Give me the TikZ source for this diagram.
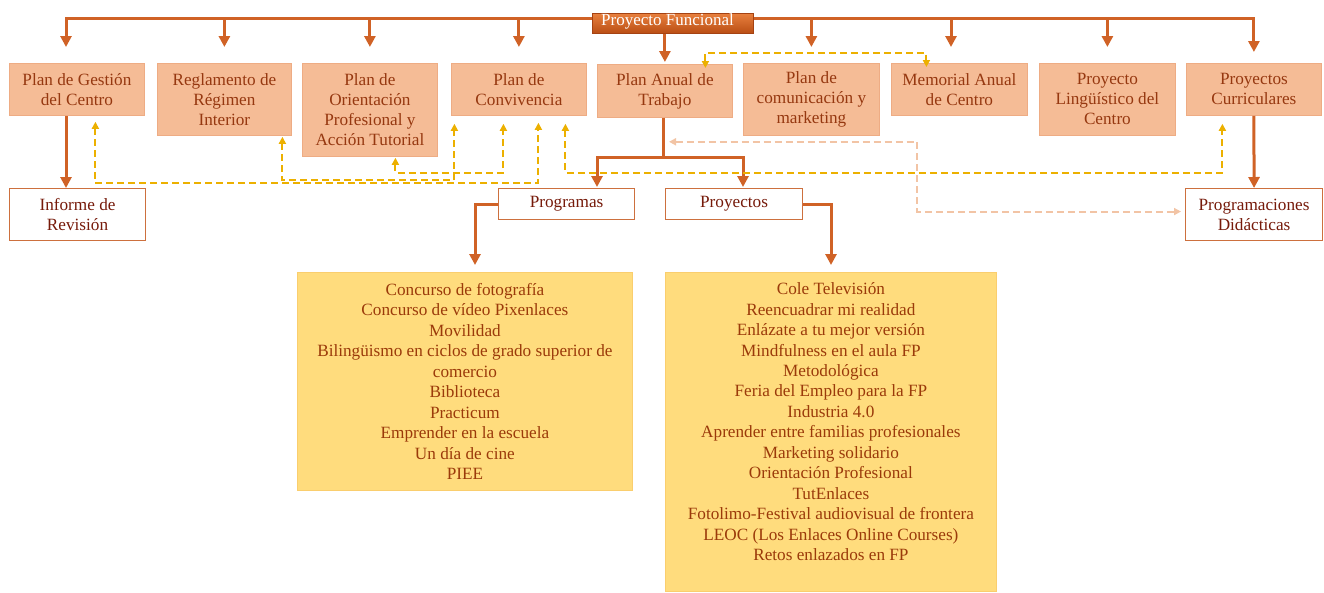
\documentclass[tikz,border=0pt]{standalone}
\usepackage{fontspec}
\setmainfont{Liberation Serif}
\usetikzlibrary{arrows.meta}

\definecolor{linkorange}{RGB}{208,98,38}
\definecolor{planfill}{RGB}{245,188,150}
\definecolor{planedge}{RGB}{238,172,132}
\definecolor{plantext}{RGB}{150,56,16}
\definecolor{docedge}{RGB}{205,112,62}
\definecolor{doctext}{RGB}{118,26,10}
\definecolor{listfill}{RGB}{255,220,125}
\definecolor{listedge}{RGB}{250,206,110}
\definecolor{listtext}{RGB}{155,58,10}
\definecolor{golddash}{RGB}{236,176,0}
\definecolor{peachdash}{RGB}{242,196,165}
\definecolor{headtop}{RGB}{232,128,62}
\definecolor{headbot}{RGB}{186,78,20}
\definecolor{headedge}{RGB}{165,66,18}

\begin{document}
\begin{tikzpicture}[x=1pt,y=-1pt,
  txt/.style={font=\fontsize{17.2}{20}\selectfont, align=center, inner sep=0pt},
  planbox/.style={txt, rectangle, fill=planfill, draw=planedge, line width=0.8pt,
    text=plantext, anchor=north west},
  docbox/.style={txt, rectangle, fill=white, draw=docedge, line width=1.1pt,
    text=doctext, anchor=north west},
  listbox/.style={rectangle, fill=listfill, draw=listedge, line width=0.8pt,
    text=listtext, anchor=north west, align=center, inner sep=0pt,
    font=\fontsize{17.2}{20.45}\selectfont},
  oline/.style={draw=linkorange, line width=3pt},
  oarrow/.style={oline, -{Triangle[width=11pt,length=11pt]}},
  gdash/.style={draw=golddash, line width=2pt, dash pattern=on 7pt off 4pt,
    {Triangle[width=7pt,length=7pt]}-{Triangle[width=7pt,length=7pt]}},
  pdash/.style={draw=peachdash, line width=2pt, dash pattern=on 7pt off 4pt,
    {Triangle[width=7pt,length=7pt]}-{Triangle[width=7pt,length=7pt]}}
]
\useasboundingbox (0,0) rectangle (1324,592);

% first row of plans
\node[planbox, minimum width=135pt, minimum height=52pt] (gestion) at (9,63) {Plan de Gestión\\del Centro};
\node[planbox, minimum width=134pt, minimum height=72pt] (regl) at (157,63) {Reglamento de\\Régimen\\Interior};
\node[planbox, minimum width=135pt, minimum height=93pt] (orient) at (302,63) {Plan de\\Orientación\\Profesional y\\Acción Tutorial};
\node[planbox, minimum width=135pt, minimum height=52pt] (conviv) at (451,63) {Plan de\\Convivencia};
\node[planbox, minimum width=135pt, minimum height=53pt] (anual) at (597,64) {Plan Anual de\\Trabajo};
\node[planbox, minimum width=136pt, minimum height=72pt] (comun) at (743,63) {Plan de\\comunicación y\\marketing};
\node[planbox, minimum width=136pt, minimum height=52pt] (memorial) at (891,63) {Memorial Anual\\de Centro};
\node[planbox, minimum width=136pt, minimum height=72pt] (ling) at (1039,63) {Proyecto\\Lingüístico del\\Centro};
\node[planbox, minimum width=135pt, minimum height=52pt] (curr) at (1186,63) {Proyectos\\Curriculares};

% documents derived from the plans
\node[docbox, minimum width=136pt, minimum height=52pt] (informe) at (9,188) {Informe de\\Revisión};
\node[docbox, minimum width=136pt, minimum height=31pt] (programas) at (498,188) {Programas};
\node[docbox, minimum width=137pt, minimum height=31pt] (proyectos) at (665,188) {Proyectos};
\node[docbox, minimum width=137pt, minimum height=52pt] (progr) at (1185,188) {Programaciones\\Didácticas};

% lists of programmes and projects
\node[listbox, minimum width=335pt, minimum height=218pt] (plist) at (297,272)
  {Concurso de fotografía\\Concurso de vídeo Pixenlaces\\Movilidad\\
   Bilingüismo en ciclos de grado superior de\\comercio\\Biblioteca\\Practicum\\
   Emprender en la escuela\\Un día de cine\\PIEE};
\node[listbox, minimum width=331pt, minimum height=319pt] (ylist) at (665,272)
  {Cole Televisión\\Reencuadrar mi realidad\\Enlázate a tu mejor versión\\
   Mindfulness en el aula FP\\Metodológica\\Feria del Empleo para la FP\\
   Industria 4.0\\Aprender entre familias profesionales\\Marketing solidario\\
   Orientación Profesional\\TutEnlaces\\Fotolimo-Festival audiovisual de frontera\\
   LEOC (Los Enlaces Online Courses)\\Retos enlazados en FP\\\mbox{}};

% distribution bar from the head box
\coordinate (bl) at (66,18);
\coordinate (br) at (1253,18);
\coordinate (bm) at (951,18);
\node[rectangle, minimum width=161pt, minimum height=20pt, anchor=north west,
  top color=headtop, bottom color=headbot, draw=headedge, line width=0.6pt,
  inner sep=0pt] (pf) at (592,13) {};
\draw[oarrow, shorten >=16pt] (pf.west |- bl) -| (bl |- gestion.north);
\draw[oarrow, shorten >=11pt] (pf.east |- br) -| (curr.north);
\foreach \b in {regl, orient, conviv, comun, ling}
  \draw[oarrow, shorten >=16pt] (\b.north |- bl) -- (\b.north);
\draw[oarrow, shorten >=16pt] (bm) -- (bm |- memorial.north);
\draw[oarrow, shorten >=2pt] (pf.south -| anual.north) -- (anual.north);
\begin{scope}
  \clip (pf.north west) rectangle (pf.south east);
  \node[anchor=base, text=white, inner sep=0pt, font=\fontsize{17}{20}\selectfont]
    (pftext) at (667.5,25.5) {Proyecto Funcional};
\end{scope}

% plan to documents
\draw[oarrow] (gestion.south -| bl) -- (informe.north -| bl);
\draw[oarrow] (curr.south) -- (progr.north);
\coordinate (fl) at (597,157);
\coordinate (fr) at (743,157);
\draw[oline] (anual.south -| 663,0) -- (fl -| 663,0);
\draw[oarrow] (fl -| 664,0) -| ([yshift=1pt]programas.north -| fl);
\draw[oarrow] (fl -| 662,0) -| ([yshift=1pt]proyectos.north -| fr);
\coordinate (pl) at (475,0);
\coordinate (pr) at (831,0);
\draw[oarrow, shorten >=7pt] (programas.west) -| (plist.north -| pl);
\draw[oarrow, shorten >=7pt] (proyectos.east) -| (ylist.north -| pr);

% links between the plans
\draw[gdash, shorten <=6pt, shorten >=7pt]
  ([xshift=18.5pt]gestion.south) -- ++(0,67.5) -| ([xshift=19.5pt]conviv.south);
\draw[gdash, shorten <=1pt, shorten >=8pt]
  ([xshift=58pt]regl.south) -- ++(0,44.5) -| ([xshift=-64.5pt]conviv.south);
\draw[gdash, shorten <=1pt, shorten >=8pt]
  ([xshift=25.5pt]orient.south) -- ++(0,16) -| ([xshift=-15.5pt]conviv.south);
\draw[gdash, shorten <=8pt, shorten >=8pt]
  ([xshift=46.5pt]conviv.south) -- ++(0,57) -| ([xshift=-31.5pt]curr.south);
\draw[gdash, shorten <=-4pt, shorten >=-4pt]
  ([xshift=40.5pt]anual.north) -- ++(0,-11) -| ([xshift=-33pt]memorial.north);
\draw[pdash, shorten <=6pt, shorten >=4pt]
  ([yshift=-24pt]anual.south -| 663,0) -- ++(254,0) |- ([yshift=3pt]progr.west);
\end{tikzpicture}
\end{document}
